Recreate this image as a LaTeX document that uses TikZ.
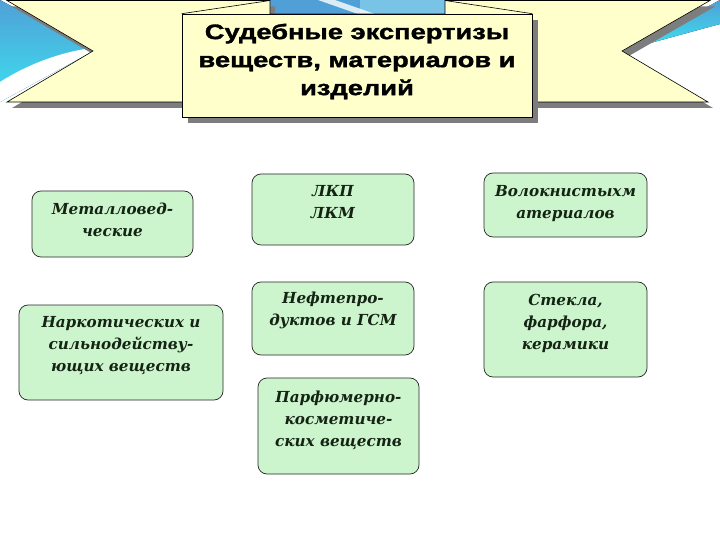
\documentclass[tikz,border=0pt]{standalone}
\usepackage{fontspec}
\setmainfont{DejaVu Serif}
\newfontfamily\titlefont[FakeStretch=1.3,FakeBold=1.6]{Liberation Sans}
\definecolor{boxgreen}{RGB}{205,245,205}
\definecolor{ribbony}{RGB}{255,255,204}
\definecolor{blueA}{RGB}{80,160,215}
\definecolor{cyanA}{RGB}{60,225,240}
\definecolor{blueB}{RGB}{120,195,230}
\definecolor{shadowgray}{RGB}{125,125,125}
\definecolor{textdark}{RGB}{20,35,20}
\begin{document}
\begin{tikzpicture}[x=1pt,y=-1pt,
  box/.style={draw=black!85, line width=0.7pt, fill=boxgreen, rounded corners=9pt, inner sep=0pt},
  boxtext/.style={font=\fontsize{15.2}{22}\selectfont\bfseries\itshape, align=center, text=textdark, inner sep=0pt},
  ribbon/.style={fill=ribbony, draw=black, line width=0.6pt},
  shadowfill/.style={fill=shadowgray}]
\useasboundingbox (0,0) rectangle (720,540);
\fill[white] (0,0) rectangle (720,540);
% decorations in the notches and gap
\fill[top color=blueA, bottom color=cyanA] (0,0) -- (93,51) -- (0,102) -- cycle;
\fill[white] (0,82) .. controls (25,66) and (55,54) .. (85,49) -- (93,51) -- (0,102) -- cycle;
\fill[top color=blueA, bottom color=cyanA] (632,48) -- (720,0) -- (720,24) -- cycle;
\fill[blueA] (270,0) rectangle (445,14);
\fill[blueB] (360,0) rectangle (445,14);
\fill[white, opacity=0.8] (318,0) -- (335,0) -- (375,14) -- (358,14) -- cycle;
% back ribbon
\fill[shadowfill, shift={(5,6)}] (7,0.5) -- (270,0.5) -- (270,14) -- (445,14) -- (445,0.5) -- (710,0.5) -- (622,51) -- (708,102) -- (7,102) -- (93,51) -- cycle;
\path[ribbon] (7,0.5) -- (270,0.5) -- (270,14) -- (445,14) -- (445,0.5) -- (710,0.5) -- (622,51) -- (708,102) -- (7,102) -- (93,51) -- cycle;
% front title box
\fill[shadowfill] (188,20) rectangle (538,123);
\node[ribbon, minimum width=350pt, minimum height=103pt, inner sep=0pt] (title) at (357,65.5) {};
\coordinate (foldL) at (270,0.5);
\coordinate (foldR) at (445,0.5);
\draw[line width=0.6pt] (title.north west) -- (foldL);
\draw[line width=0.6pt] (title.north east) -- (foldR);
\node[font=\titlefont\bfseries\fontsize{21}{28}\selectfont, align=center, inner sep=0pt] (titletext) at ([yshift=4pt]title.center) {Судебные экспертизы\\веществ, материалов и\\изделий};
% boxes
\node[box, minimum width=161pt, minimum height=66pt] (m1) at (112.5,224) {};
\node[box, minimum width=162pt, minimum height=71pt] (m2) at (333,209.5) {};
\node[box, minimum width=163pt, minimum height=64pt] (m3) at (565.5,205) {};
\node[box, minimum width=204pt, minimum height=95pt] (m4) at (121,352.5) {};
\node[box, minimum width=162pt, minimum height=73pt] (m5) at (333,318.5) {};
\node[box, minimum width=163pt, minimum height=95pt] (m6) at (565.5,329.5) {};
\node[box, minimum width=161pt, minimum height=96pt] (m7) at (338.5,426) {};
\node[boxtext] (t1) at ([yshift=4pt]m1.center) {Металловед-\\ческие};
\node[boxtext] (t2) at ([yshift=7pt]m2.center) {ЛКП\\ЛКМ};
\node[boxtext] (t3) at ([yshift=1pt]m3.center) {Волокнистыхм\\атериалов};
\node[boxtext] (t4) at ([yshift=7pt]m4.center) {Наркотических и\\сильнодейству-\\ющих веществ};
\node[boxtext] (t5) at ([yshift=8pt]m5.center) {Нефтепро-\\дуктов и ГСМ};
\node[boxtext] (t6) at ([yshift=6pt]m6.center) {Стекла,\\фарфора,\\керамики};
\node[boxtext] (t7) at ([yshift=6pt]m7.center) {Парфюмерно-\\косметиче-\\ских веществ};
\end{tikzpicture}
\end{document}
